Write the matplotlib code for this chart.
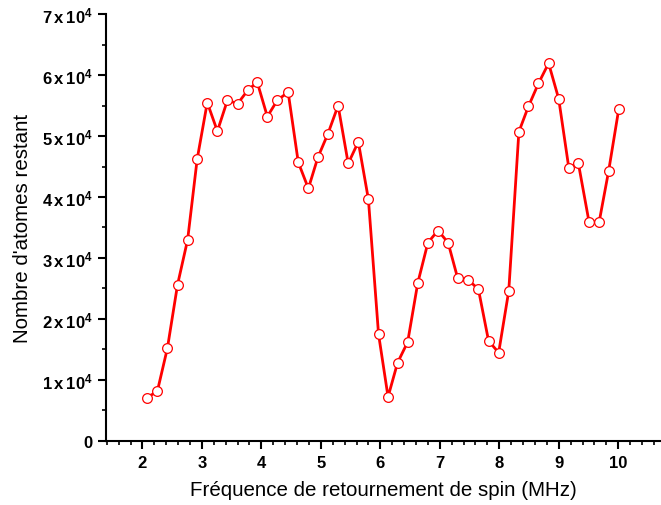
import matplotlib
matplotlib.use("Agg")
import matplotlib.pyplot as plt
from matplotlib.ticker import MultipleLocator, FixedLocator, FixedFormatter

plt.rcParams['font.family'] = ['Liberation Sans', 'DejaVu Sans']
plt.rcParams['mathtext.fontset'] = 'custom'
plt.rcParams['mathtext.rm'] = 'Liberation Sans'
plt.rcParams['mathtext.bf'] = 'Liberation Sans:bold'

freq_mhz = [2.07, 2.25, 2.42, 2.59, 2.76, 2.92, 3.09, 3.26, 3.43, 3.60,
            3.77, 3.93, 4.10, 4.27, 4.45, 4.62, 4.79, 4.95, 5.12, 5.29,
            5.46, 5.63, 5.80, 5.97, 6.13, 6.29, 6.46, 6.63, 6.80, 6.97,
            7.14, 7.30, 7.48, 7.65, 7.82, 7.99, 8.16, 8.33, 8.49, 8.66,
            8.83, 9.00, 9.17, 9.33, 9.51, 9.68, 9.84, 10.01]
atoms = [7050, 8100, 15200, 25600, 33000, 46200, 55500, 50800, 55900, 55300,
         57500, 58850, 53200, 55900, 57200, 45700, 41400, 46500, 50400, 55000,
         45500, 49050, 39600, 17500, 7200, 12800, 16200, 25900, 32500, 34500,
         32500, 26700, 26400, 24850, 16400, 14450, 24600, 50700, 54850, 58650,
         61950, 56100, 44750, 45550, 35900, 35900, 44300, 54450]

x_ticks = [2, 3, 4, 5, 6, 7, 8, 9, 10]
y_ticks = [0, 10000, 20000, 30000, 40000, 50000, 60000, 70000]
y_tick_labels = ['0'] + [r'$\mathbf{%d\,x\,10^{4}}$' % k for k in range(1, 8)]

fig = plt.figure(figsize=(6.61, 5.06), dpi=100)
ax = fig.add_axes([0.160, 0.127, 0.840, 0.843])

ax.plot(freq_mhz, atoms, color='#ff0000', linewidth=2.0, marker='o',
        markersize=7, markerfacecolor='white', markeredgecolor='#ff0000',
        markeredgewidth=0.9, zorder=3)

ax.set_xlim(1.383, 10.72)
ax.set_ylim(0, 70000)

ax.xaxis.set_major_locator(FixedLocator(x_ticks))
ax.xaxis.set_minor_locator(MultipleLocator(0.2))
ax.yaxis.set_major_locator(FixedLocator(y_ticks))
ax.yaxis.set_major_formatter(FixedFormatter(y_tick_labels))
ax.yaxis.set_minor_locator(MultipleLocator(5000))

for side in ['top', 'right']:
    ax.spines[side].set_visible(False)
for side in ['left', 'bottom']:
    ax.spines[side].set_linewidth(1.5)

ax.tick_params(which='major', direction='out', length=5.5, width=1.5, pad=4)
ax.tick_params(axis='x', which='major', labelsize=12, pad=5)
ax.tick_params(axis='y', which='major', labelsize=12, pad=4)
ax.tick_params(which='minor', direction='out', length=3, width=1.2)
for lbl in ax.get_xticklabels() + ax.get_yticklabels():
    lbl.set_fontweight('bold')

ax.set_xlabel("Fréquence de retournement de spin (MHz)", fontsize=14.8, labelpad=7)
ax.set_ylabel("Nombre d'atomes restant", fontsize=14.8, labelpad=7)

fig.savefig("out.png", dpi=100)
